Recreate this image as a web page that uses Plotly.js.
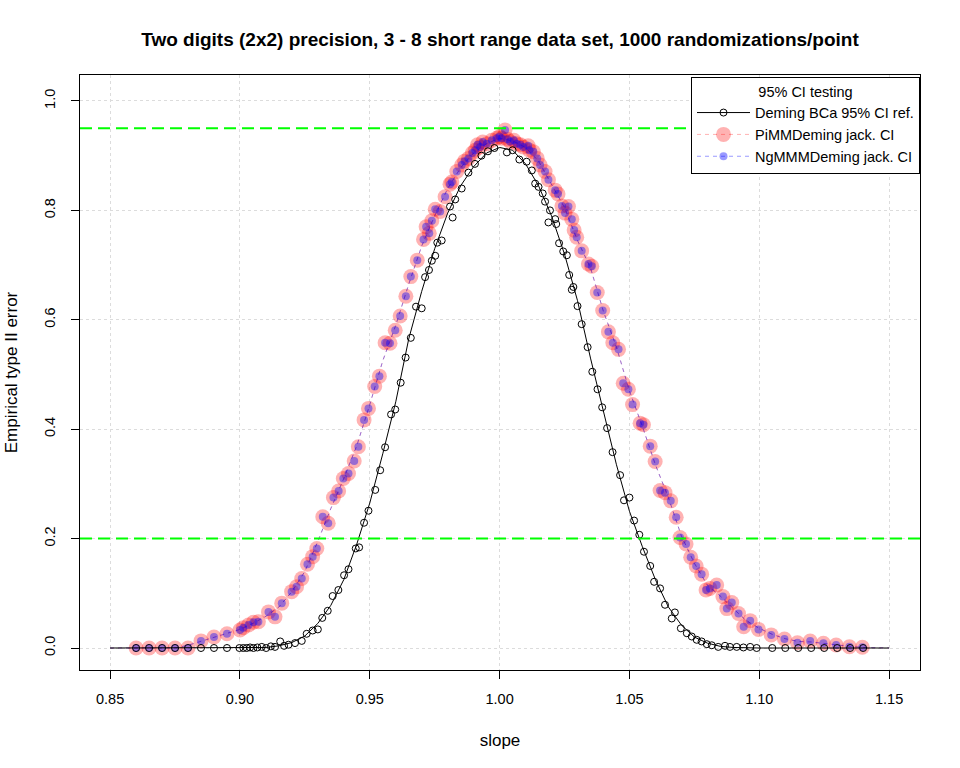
<!DOCTYPE html>
<html>
<head>
<meta charset="utf-8">
<script src="https://cdn.plot.ly/plotly-3.0.1.min.js"></script>
<style>
  body { margin: 0; background: #fff; }
  #chart { width: 960px; height: 768px; }
</style>
</head>
<body>
<div id="chart"></div>
<script>
// smooth reference curves, sampled every 0.005 of slope
const lineX = [0.850,0.855,0.860,0.865,0.870,0.875,0.880,0.885,0.890,0.895,
  0.900,0.905,0.910,0.915,0.920,0.925,0.930,0.935,0.940,0.945,
  0.950,0.955,0.960,0.965,0.970,0.975,0.980,0.985,0.990,0.995,
  1.000,1.005,1.010,1.015,1.020,1.025,1.030,1.035,1.040,1.045,
  1.050,1.055,1.060,1.065,1.070,1.075,1.080,1.085,1.090,1.095,
  1.100,1.105,1.110,1.115,1.120,1.125,1.130,1.135,1.140,1.145,1.150];
const demingLine = [0,0,0,0,0,0,0,0,0,0,
  0,0,0.001,0.004,0.010,0.022,0.045,0.078,0.125,0.190,
  0.265,0.355,0.450,0.565,0.652,0.730,0.795,0.845,0.880,0.905,
  0.915,0.910,0.885,0.845,0.790,0.720,0.635,0.530,0.430,0.335,
  0.250,0.185,0.125,0.075,0.042,0.020,0.009,0.003,0.001,0,
  0,0,0,0,0,0,0,0,0,0,0];
const jackLine = [0,0,0,0,0,0,0.005,0.012,0.019,0.026,
  0.034,0.045,0.058,0.075,0.103,0.140,0.195,0.255,0.310,0.370,
  0.445,0.525,0.590,0.665,0.735,0.790,0.840,0.878,0.905,0.922,
  0.932,0.927,0.915,0.890,0.848,0.805,0.745,0.695,0.615,0.550,
  0.470,0.405,0.335,0.275,0.205,0.155,0.115,0.095,0.072,0.050,
  0.036,0.025,0.017,0.012,0.011,0.008,0.005,0.003,0.001,0,0];

// Deming BCa points
const demX = [0.860,0.865,0.870,0.875,0.880,0.885,0.890,0.895,0.8998,0.9013,
  0.9026,0.9039,0.9052,0.9067,0.9084,0.9101,0.9119,0.9135,0.9155,0.9170,
  0.9187,0.9212,0.9238,0.9257,0.9280,0.9300,0.9317,0.9338,0.9357,0.9379,
  0.9401,0.9418,0.9446,0.9459,0.9478,0.9495,0.9521,0.9540,0.9559,0.9582,
  0.9598,0.9619,0.9638,0.9658,0.9678,0.9700,0.9713,0.9728,0.9739,0.9752,
  0.9760,0.9777,0.9809,0.9819,0.9829,0.9854,0.9880,0.9905,0.9930,0.9955,
  0.9980,1.0028,1.0050,1.0076,1.0104,1.0124,1.0137,1.0150,1.0166,1.0175,
  1.0188,1.0194,1.0214,1.0218,1.0229,1.0245,1.0259,1.0268,1.0278,1.0284,
  1.0300,1.0316,1.0339,1.0357,1.0377,1.0395,1.0414,1.0435,1.0464,1.0479,
  1.0500,1.0518,1.0538,1.0556,1.0580,1.0595,1.0618,1.0637,1.0663,1.0675,
  1.0698,1.0721,1.0740,1.0759,1.0778,1.0798,1.0817,1.0842,1.0868,1.0887,
  1.0913,1.0939,1.0965,1.0990,1.105,1.110,1.115,1.120,1.125,1.130,
  1.135,1.140];
const demY = [0,0,0,0,0,0,0,0,0,0,
  0,0.001,0,0.001,0.002,0,0.003,0.002,0.012,0.004,
  0.006,0.009,0.013,0.026,0.032,0.034,0.055,0.068,0.095,0.106,
  0.133,0.144,0.182,0.184,0.229,0.251,0.289,0.325,0.367,0.427,
  0.436,0.485,0.531,0.567,0.624,0.621,0.678,0.691,0.708,0.717,
  0.741,0.745,0.807,0.787,0.820,0.840,0.869,0.885,0.900,0.908,
  0.914,0.906,0.910,0.893,0.889,0.873,0.849,0.843,0.831,0.816,
  0.778,0.800,0.784,0.775,0.740,0.725,0.718,0.682,0.655,0.660,
  0.625,0.592,0.550,0.505,0.473,0.440,0.402,0.358,0.316,0.270,
  0.275,0.233,0.207,0.176,0.150,0.121,0.109,0.079,0.054,0.065,
  0.036,0.027,0.021,0.015,0.012,0.007,0.005,0.002,0.004,0.002,
  0.002,0.001,0.002,0,0,0,0,0,0,0,
  0,0];

// jackknife CI points (PiMMDeming and NgMMMDeming coincide)
const jackX = [0.860,0.865,0.870,0.875,0.880,0.885,0.890,0.895,0.900,0.9013,
  0.9033,0.9052,0.9071,0.9110,0.9135,0.9161,0.9199,0.9218,0.9238,0.9260,
  0.9280,0.9296,0.9319,0.9340,0.9360,0.9380,0.9398,0.9418,0.9440,0.9456,
  0.9478,0.9495,0.9519,0.9537,0.9559,0.9578,0.9598,0.9617,0.9639,0.9658,
  0.9683,0.9707,0.9717,0.9729,0.9739,0.9752,0.9771,0.9790,0.9809,0.9816,
  0.9835,0.9854,0.9865,0.9880,0.9895,0.9906,0.9915,0.9925,0.9935,0.9951,
  0.9970,0.9989,1.0000,1.0008,1.0021,1.0030,1.0040,1.0055,1.0066,1.0080,
  1.0091,1.0110,1.0115,1.0130,1.0145,1.0156,1.0175,1.0188,1.0214,1.0225,
  1.0240,1.0252,1.0265,1.0278,1.0287,1.0297,1.0316,1.0342,1.0355,1.0376,
  1.0397,1.0419,1.0436,1.0458,1.0476,1.0496,1.0512,1.0541,1.0554,1.0580,
  1.0599,1.0618,1.0637,1.0659,1.0680,1.0695,1.0718,1.0736,1.0757,1.0778,
  1.0795,1.0810,1.0836,1.0860,1.0875,1.0894,1.0920,1.0940,1.0965,1.0997,
  1.1046,1.1097,1.1147,1.1196,1.1247,1.1296,1.1347,1.1397];
const piY = [0,0,0,0,0,0.013,0.020,0.026,0.033,0.037,
  0.042,0.047,0.048,0.066,0.057,0.082,0.103,0.112,0.127,0.153,
  0.167,0.182,0.240,0.228,0.275,0.287,0.310,0.319,0.342,0.368,
  0.417,0.438,0.478,0.497,0.558,0.557,0.581,0.607,0.643,0.679,
  0.709,0.747,0.770,0.758,0.781,0.802,0.798,0.825,0.848,0.852,
  0.871,0.883,0.890,0.895,0.905,0.910,0.920,0.916,0.925,0.922,
  0.928,0.932,0.935,0.932,0.947,0.930,0.926,0.928,0.922,0.920,
  0.916,0.918,0.910,0.907,0.895,0.883,0.871,0.856,0.837,0.830,
  0.808,0.795,0.807,0.784,0.764,0.751,0.726,0.702,0.698,0.650,
  0.617,0.578,0.558,0.546,0.484,0.473,0.445,0.411,0.408,0.369,
  0.341,0.288,0.284,0.269,0.239,0.202,0.190,0.166,0.150,0.135,
  0.106,0.109,0.115,0.094,0.072,0.083,0.063,0.039,0.050,0.034,
  0.024,0.0165,0.0097,0.0128,0.0086,0.0055,0.0024,0.0013];
const ngY = piY.slice();

const refLevels = [0.95, 0.2];
const xTicks = [0.85, 0.90, 0.95, 1.00, 1.05, 1.10, 1.15];
const xTickText = ['0.85', '0.90', '0.95', '1.00', '1.05', '1.10', '1.15'];
const yTicks = [0, 0.2, 0.4, 0.6, 0.8, 1.0];
const yTickText = ['0.0', '0.2', '0.4', '0.6', '0.8', '1.0'];
const seriesNames = ['Deming BCa 95% CI ref.', 'PiMMDeming jack. CI', 'NgMMMDeming jack. CI'];

const pink = 'rgba(255,0,0,0.3)';
const blue = 'rgba(0,0,255,0.4)';

const traces = [
  {type: 'scatter', mode: 'lines', x: lineX, y: jackLine, showlegend: false, hoverinfo: 'skip',
   line: {color: pink, width: 1, dash: '4px,4px'}},
  {type: 'scatter', mode: 'markers', x: jackX, y: piY, showlegend: false,
   marker: {color: pink, size: 15, symbol: 'circle'}},
  {type: 'scatter', mode: 'lines', x: lineX, y: jackLine, showlegend: false, hoverinfo: 'skip',
   line: {color: blue, width: 1, dash: '4px,4px'}},
  {type: 'scatter', mode: 'markers', x: jackX, y: ngY, showlegend: false,
   marker: {color: blue, size: 8, symbol: 'circle'}},
  {type: 'scatter', mode: 'lines', x: lineX, y: demingLine, showlegend: false, hoverinfo: 'skip',
   line: {color: 'black', width: 1}},
  {type: 'scatter', mode: 'markers', x: demX, y: demY, showlegend: false,
   marker: {color: 'black', size: 7, symbol: 'circle-open', line: {width: 1}}},
  // legend entries
  {type: 'scatter', mode: 'lines+markers', x: [null], y: [null], name: seriesNames[0],
   line: {color: 'black', width: 1}, marker: {color: 'black', size: 7, symbol: 'circle-open', line: {width: 1}}},
  {type: 'scatter', mode: 'lines+markers', x: [null], y: [null], name: seriesNames[1],
   line: {color: pink, width: 1, dash: '4px,4px'}, marker: {color: pink, size: 15}},
  {type: 'scatter', mode: 'lines+markers', x: [null], y: [null], name: seriesNames[2],
   line: {color: blue, width: 1, dash: '4px,4px'}, marker: {color: blue, size: 8}}
];

const shapes = refLevels.map(v => ({
  type: 'line', xref: 'paper', x0: 0, x1: 1, yref: 'y', y0: v, y1: v,
  line: {color: '#00ff00', width: 2, dash: '12px,6px'}
}));

const layout = {
  width: 960,
  height: 768,
  paper_bgcolor: 'white',
  plot_bgcolor: 'white',
  font: {family: 'Liberation Sans, Arial, sans-serif', size: 14.5, color: 'black'},
  margin: {l: 80, r: 40, t: 75, b: 98},
  title: {
    text: 'Two digits (2x2) precision, 3 - 8 short range data set, 1000 randomizations/point',
    font: {size: 19, weight: 'bold'},
    x: 0.5, xref: 'paper', xanchor: 'center',
    y: 0.949, yref: 'container', yanchor: 'middle'
  },
  xaxis: {
    range: [0.8384, 1.1619],
    tickvals: xTicks, ticktext: xTickText,
    ticks: 'outside', ticklen: 8, tickcolor: 'black', tickwidth: 1,
    ticklabelstandoff: 8,
    showline: true, mirror: true, linecolor: 'black', linewidth: 1,
    showgrid: true, gridcolor: '#dcdcdc', griddash: 'dot', gridwidth: 1,
    zeroline: false,
    title: {text: 'slope', standoff: 27}
  },
  yaxis: {
    range: [-0.0402, 1.0475],
    tickvals: yTicks, ticktext: yTickText, tickangle: -90,
    ticks: 'outside', ticklen: 8, tickcolor: 'black', tickwidth: 1,
    ticklabelstandoff: 10,
    showline: true, mirror: true, linecolor: 'black', linewidth: 1,
    showgrid: true, gridcolor: '#dcdcdc', griddash: 'dot', gridwidth: 1,
    zeroline: false,
    title: {text: 'Empirical type II error', standoff: 20}
  },
  shapes: shapes,
  showlegend: true,
  legend: {
    x: 1, xanchor: 'right', y: 0.997, yanchor: 'top',
    bgcolor: 'white', bordercolor: 'black', borderwidth: 1,
    itemwidth: 53,
    font: {size: 14.5},
    title: {text: '95% CI testing', side: 'top center', font: {size: 14.5}}
  },
  hovermode: 'closest'
};

Plotly.newPlot('chart', traces, layout, {displayModeBar: false});
</script>
</body>
</html>
